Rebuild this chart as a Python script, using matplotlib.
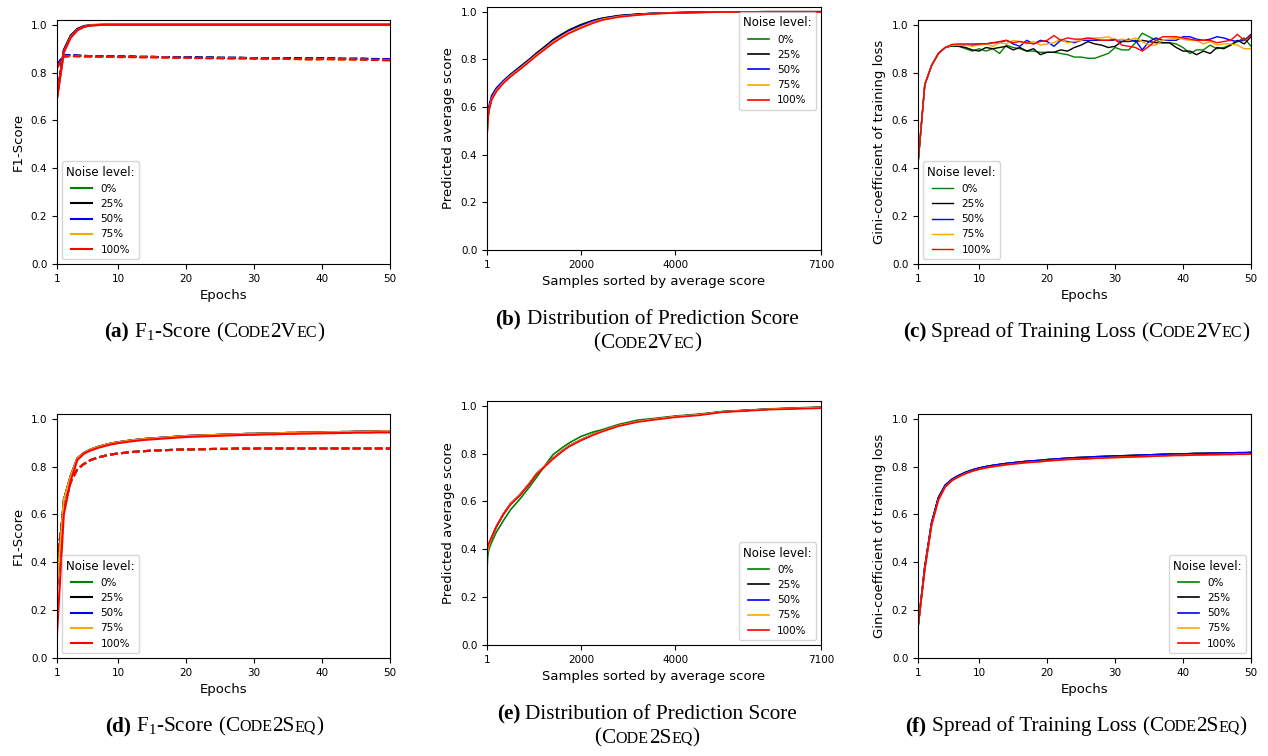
import matplotlib
matplotlib.use("Agg")
import matplotlib.pyplot as plt
from matplotlib.offsetbox import TextArea, HPacker, VPacker, DrawingArea, AnchoredOffsetbox

plt.rcParams["mathtext.fontset"] = "custom"
plt.rcParams["mathtext.rm"] = "Liberation Serif"

NOISE = ["0%", "25%", "50%", "75%", "100%"]
COLORS = ["green", "black", "blue", "orange", "red"]
EPOCHS = list(range(1, 51))

# ---- (a) code2vec F1, solid = train, dashed = validation
a_train = {
    "0%": [0.70, 0.89, 0.95, 0.98, 0.993, 0.998, 0.999] + [1.0] * 43,
    "25%": [0.70, 0.895, 0.955, 0.983, 0.995, 0.999, 1.0] + [1.0] * 43,
    "50%": [0.70, 0.89, 0.95, 0.98, 0.993, 0.998, 0.999] + [1.0] * 43,
    "75%": [0.69, 0.885, 0.948, 0.978, 0.992, 0.998, 0.999] + [1.0] * 43,
    "100%": [0.69, 0.885, 0.945, 0.977, 0.992, 0.997, 0.999] + [1.0] * 43,
}
a_val_hi = [0.830, 0.873, 0.873, 0.871, 0.870, 0.869, 0.869, 0.868, 0.868, 0.867,
            0.867, 0.867, 0.866, 0.866, 0.866, 0.865, 0.865, 0.865, 0.864, 0.864,
            0.864, 0.863, 0.863, 0.863, 0.862, 0.862, 0.862, 0.862, 0.861, 0.861,
            0.861, 0.860, 0.860, 0.861, 0.861, 0.860, 0.859, 0.859, 0.859, 0.860,
            0.859, 0.859, 0.858, 0.858, 0.858, 0.858, 0.857, 0.857, 0.856, 0.856]
a_val_lo = [0.820, 0.866, 0.869, 0.868, 0.867, 0.867, 0.866, 0.866, 0.866, 0.865,
            0.865, 0.865, 0.864, 0.864, 0.864, 0.863, 0.863, 0.862, 0.862, 0.862,
            0.861, 0.861, 0.860, 0.860, 0.860, 0.859, 0.859, 0.859, 0.859, 0.858,
            0.858, 0.858, 0.858, 0.858, 0.857, 0.857, 0.856, 0.855, 0.855, 0.856,
            0.856, 0.855, 0.855, 0.855, 0.854, 0.854, 0.853, 0.853, 0.852, 0.851]
a_val = {"0%": a_val_hi, "25%": a_val_hi, "50%": a_val_hi, "75%": a_val_lo, "100%": a_val_lo}

# ---- (d) code2seq F1
d_train_hi = [0.30, 0.66, 0.76, 0.835, 0.858, 0.872, 0.882, 0.890, 0.897, 0.902,
              0.906, 0.910, 0.913, 0.916, 0.918, 0.920, 0.922, 0.924, 0.926, 0.928,
              0.929, 0.930, 0.931, 0.932, 0.933, 0.934, 0.935, 0.936, 0.937, 0.937,
              0.938, 0.939, 0.939, 0.940, 0.941, 0.941, 0.942, 0.942, 0.943, 0.943,
              0.944, 0.944, 0.945, 0.945, 0.946, 0.946, 0.947, 0.947, 0.948, 0.948]
d_train_red = [0.10, 0.60, 0.74, 0.828, 0.855, 0.868, 0.878, 0.886, 0.893, 0.898,
               0.902, 0.906, 0.909, 0.912, 0.914, 0.916, 0.918, 0.920, 0.922, 0.924,
               0.925, 0.926, 0.927, 0.928, 0.929, 0.930, 0.931, 0.932, 0.933, 0.933,
               0.934, 0.935, 0.935, 0.936, 0.937, 0.937, 0.938, 0.938, 0.939, 0.939,
               0.940, 0.940, 0.941, 0.941, 0.942, 0.942, 0.942, 0.943, 0.943, 0.943]
d_val = [0.40, 0.63, 0.735, 0.790, 0.812, 0.828, 0.838, 0.845, 0.851, 0.855,
         0.858, 0.861, 0.863, 0.865, 0.867, 0.868, 0.869, 0.870, 0.871, 0.872,
         0.872, 0.873, 0.873, 0.874, 0.874, 0.874, 0.875, 0.875, 0.875, 0.875,
         0.876, 0.876, 0.876, 0.876, 0.876, 0.876, 0.876, 0.876, 0.876, 0.876,
         0.876, 0.876, 0.876, 0.876, 0.876, 0.876, 0.876, 0.876, 0.876, 0.876]
d_train = {"0%": d_train_hi, "25%": d_train_hi, "50%": d_train_hi, "75%": d_train_hi, "100%": d_train_red}

# ---- (c) code2vec gini of training loss
c_gini = {
    "0%": [0.42, 0.75, 0.83, 0.88, 0.905, 0.912, 0.91, 0.90, 0.89, 0.90,
           0.89, 0.90, 0.88, 0.915, 0.905, 0.90, 0.89, 0.89, 0.885, 0.885,
           0.885, 0.88, 0.875, 0.865, 0.865, 0.86, 0.86, 0.87, 0.88, 0.905,
           0.895, 0.895, 0.925, 0.965, 0.95, 0.935, 0.925, 0.925, 0.92, 0.905,
           0.88, 0.895, 0.895, 0.915, 0.90, 0.905, 0.915, 0.93, 0.945, 0.91],
    "25%": [0.42, 0.75, 0.83, 0.88, 0.905, 0.912, 0.91, 0.905, 0.895, 0.89,
            0.905, 0.90, 0.905, 0.91, 0.895, 0.905, 0.89, 0.90, 0.875, 0.885,
            0.885, 0.895, 0.89, 0.905, 0.915, 0.93, 0.92, 0.915, 0.905, 0.91,
            0.93, 0.94, 0.93, 0.935, 0.93, 0.925, 0.925, 0.925, 0.905, 0.89,
            0.89, 0.875, 0.89, 0.88, 0.905, 0.90, 0.915, 0.935, 0.92, 0.95],
    "50%": [0.42, 0.75, 0.83, 0.88, 0.905, 0.915, 0.915, 0.915, 0.915, 0.92,
            0.92, 0.925, 0.925, 0.935, 0.92, 0.91, 0.935, 0.92, 0.935, 0.93,
            0.91, 0.935, 0.93, 0.925, 0.935, 0.935, 0.935, 0.935, 0.935, 0.935,
            0.93, 0.93, 0.935, 0.895, 0.93, 0.945, 0.935, 0.935, 0.935, 0.95,
            0.95, 0.94, 0.935, 0.94, 0.95, 0.945, 0.935, 0.93, 0.935, 0.96],
    "75%": [0.42, 0.75, 0.83, 0.88, 0.905, 0.915, 0.915, 0.915, 0.91, 0.915,
            0.92, 0.91, 0.925, 0.92, 0.935, 0.93, 0.92, 0.93, 0.915, 0.92,
            0.925, 0.94, 0.925, 0.93, 0.935, 0.945, 0.945, 0.945, 0.95, 0.935,
            0.94, 0.935, 0.945, 0.93, 0.915, 0.915, 0.935, 0.94, 0.945, 0.94,
            0.935, 0.935, 0.92, 0.93, 0.915, 0.92, 0.92, 0.915, 0.90, 0.90],
    "100%": [0.42, 0.75, 0.83, 0.88, 0.905, 0.918, 0.92, 0.92, 0.92, 0.92,
             0.92, 0.925, 0.93, 0.935, 0.925, 0.93, 0.925, 0.92, 0.93, 0.935,
             0.955, 0.935, 0.945, 0.94, 0.94, 0.945, 0.94, 0.935, 0.935, 0.94,
             0.915, 0.91, 0.905, 0.89, 0.91, 0.935, 0.95, 0.95, 0.95, 0.945,
             0.94, 0.935, 0.935, 0.935, 0.925, 0.93, 0.935, 0.96, 0.935, 0.955],
}

# ---- (f) code2seq gini of training loss
f_hi = [0.13, 0.38, 0.565, 0.67, 0.722, 0.747, 0.763, 0.776, 0.786, 0.794,
        0.800, 0.805, 0.809, 0.813, 0.816, 0.819, 0.822, 0.824, 0.826, 0.829,
        0.831, 0.833, 0.835, 0.837, 0.838, 0.839, 0.841, 0.842, 0.843, 0.844,
        0.845, 0.846, 0.847, 0.848, 0.849, 0.850, 0.851, 0.852, 0.853, 0.853,
        0.854, 0.855, 0.855, 0.856, 0.856, 0.857, 0.857, 0.858, 0.858, 0.859]
f_red = [0.13, 0.37, 0.555, 0.66, 0.715, 0.742, 0.758, 0.771, 0.781, 0.789,
         0.795, 0.800, 0.804, 0.808, 0.811, 0.814, 0.817, 0.819, 0.821, 0.824,
         0.826, 0.828, 0.830, 0.831, 0.832, 0.833, 0.835, 0.836, 0.837, 0.838,
         0.839, 0.840, 0.841, 0.842, 0.843, 0.844, 0.845, 0.846, 0.847, 0.847,
         0.848, 0.849, 0.849, 0.850, 0.850, 0.851, 0.851, 0.852, 0.852, 0.853]
f_gini = {"0%": f_hi, "25%": f_hi, "50%": f_hi, "75%": f_red, "100%": f_red}

# ---- (b) / (e) sorted average prediction score
SAMPLES = [1, 5, 15, 30, 50, 100, 200, 350, 500, 700, 900, 1050, 1250, 1400,
           1600, 1750, 2000, 2250, 2450, 2800, 3200, 3500, 4000, 4500, 5000, 6000, 7100]
b_score = {
    "0%": [0.40, 0.50, 0.545, 0.575, 0.60, 0.64, 0.675, 0.708, 0.735, 0.767, 0.80, 0.825, 0.855, 0.88,
           0.905, 0.922, 0.944, 0.962, 0.972, 0.983, 0.989, 0.993, 0.996, 0.998, 0.999, 1.0, 1.0],
    "25%": [0.40, 0.50, 0.545, 0.575, 0.60, 0.64, 0.677, 0.71, 0.737, 0.769, 0.80, 0.826, 0.857, 0.882,
            0.907, 0.924, 0.946, 0.963, 0.973, 0.984, 0.99, 0.993, 0.996, 0.998, 0.999, 1.0, 1.0],
    "50%": [0.40, 0.53, 0.57, 0.59, 0.61, 0.648, 0.68, 0.71, 0.736, 0.766, 0.798, 0.822, 0.852, 0.877,
            0.902, 0.92, 0.942, 0.96, 0.971, 0.982, 0.989, 0.993, 0.996, 0.998, 0.999, 1.0, 1.0],
    "75%": [0.40, 0.49, 0.54, 0.57, 0.595, 0.635, 0.67, 0.704, 0.731, 0.762, 0.794, 0.819, 0.849, 0.873,
            0.898, 0.915, 0.937, 0.956, 0.968, 0.98, 0.987, 0.992, 0.995, 0.997, 0.999, 1.0, 1.0],
    "100%": [0.40, 0.49, 0.535, 0.565, 0.59, 0.63, 0.665, 0.70, 0.727, 0.758, 0.79, 0.815, 0.845, 0.868,
             0.893, 0.91, 0.932, 0.952, 0.965, 0.978, 0.986, 0.991, 0.995, 0.997, 0.999, 1.0, 1.0],
}
e_main = [0.34, 0.37, 0.39, 0.405, 0.42, 0.448, 0.495, 0.548, 0.59, 0.628, 0.675, 0.715, 0.752, 0.78,
          0.812, 0.833, 0.858, 0.88, 0.895, 0.918, 0.935, 0.943, 0.955, 0.963, 0.975, 0.986, 0.993]
e_score = {
    "0%": [0.28, 0.33, 0.37, 0.39, 0.405, 0.43, 0.472, 0.52, 0.565, 0.61, 0.66, 0.70, 0.755, 0.795,
           0.825, 0.845, 0.872, 0.89, 0.90, 0.922, 0.94, 0.946, 0.957, 0.965, 0.976, 0.987, 0.995],
    "25%": e_main,
    "50%": e_main,
    "75%": e_main,
    "100%": [0.38, 0.40, 0.41, 0.42, 0.43, 0.452, 0.495, 0.546, 0.587, 0.625, 0.672, 0.712, 0.749, 0.777,
             0.809, 0.83, 0.855, 0.877, 0.892, 0.915, 0.932, 0.94, 0.952, 0.96, 0.973, 0.984, 0.99],
}

W, H = 1268, 756
fig = plt.figure(figsize=(W / 100, H / 100), dpi=100)
SERIF = "Liberation Serif"
CAP = 15.3


def box(l, r, t, b):
    return [l / W, 1 - b / H, (r - l) / W, (b - t) / H]


def style(ax, xlabel, ylabel, xticks, xlim):
    ax.set_xlim(*xlim)
    ax.set_ylim(0, 1.02)
    ax.set_xticks(xticks)
    ax.set_yticks([0.0, 0.2, 0.4, 0.6, 0.8, 1.0])
    ax.tick_params(labelsize=7.5)
    ax.set_xlabel(xlabel, fontsize=9.5)
    ax.set_ylabel(ylabel, fontsize=9.5)


def legend(ax, loc):
    ax.legend(title="Noise level:", loc=loc, fontsize=7.5, title_fontsize=8.5)


def sc(word):
    # fake small caps: lowercase letters drawn as smaller capitals
    parts, cur, low = [], "", None
    for ch in word:
        is_low = ch.islower()
        if low is not None and is_low != low:
            parts.append((cur.upper(), CAP * 0.76 if low else CAP, "normal"))
            cur = ""
        cur += ch
        low = is_low
    parts.append((cur.upper(), CAP * 0.76 if low else CAP, "normal"))
    return parts


def caption(cx, cy, lines):
    rows = []
    for line in lines:
        kids = []
        for item in line:
            if item == " ":
                kids.append(DrawingArea(CAP * 0.25, 1))
                continue
            s, size, weight = item
            kids.append(TextArea(s, textprops=dict(family=SERIF, size=size, weight=weight)))
        rows.append(HPacker(children=kids, align="baseline", pad=0, sep=0))
    child = VPacker(children=rows, align="center", pad=0, sep=3) if len(rows) > 1 else rows[0]
    ab = AnchoredOffsetbox(loc="center", child=child, pad=0, borderpad=0, frameon=False,
                           bbox_to_anchor=(cx / W, 1 - cy / H), bbox_transform=fig.transFigure)
    fig.add_artist(ab)


# (a)
ax = fig.add_axes(box(57, 390, 20, 264))
for n, c in zip(NOISE, COLORS):
    ax.plot(EPOCHS, a_val[n], color=c, lw=1.5, ls="--")
for n, c in zip(NOISE, COLORS):
    ax.plot(EPOCHS, a_train[n], color=c, lw=1.5, label=n)
style(ax, "Epochs", "F1-Score", [1, 10, 20, 30, 40, 50], (1, 50))
legend(ax, "lower left")

# (b)
ax = fig.add_axes(box(487, 821, 7, 250))
for n, c in zip(NOISE, COLORS):
    ax.plot(SAMPLES, b_score[n], color=c, lw=1.2, label=n)
style(ax, "Samples sorted by average score", "Predicted average score", [1, 2000, 4000, 7100], (1, 7100))
legend(ax, "upper right")

# (c)
ax = fig.add_axes(box(918, 1251, 20, 264))
for n, c in zip(NOISE, COLORS):
    ax.plot(EPOCHS, c_gini[n], color=c, lw=1.0, label=n)
style(ax, "Epochs", "Gini-coefficient of training loss", [1, 10, 20, 30, 40, 50], (1, 50))
legend(ax, "lower left")

# (d)
ax = fig.add_axes(box(57, 390, 414, 658))
for n, c in zip(NOISE, COLORS):
    ax.plot(EPOCHS, d_val, color=c, lw=1.5, ls="--")
for n, c in zip(NOISE, COLORS):
    ax.plot(EPOCHS, d_train[n], color=c, lw=1.5, label=n)
style(ax, "Epochs", "F1-Score", [1, 10, 20, 30, 40, 50], (1, 50))
legend(ax, "lower left")

# (e)
ax = fig.add_axes(box(487, 821, 401, 645))
for n, c in zip(NOISE, COLORS):
    ax.plot(SAMPLES, e_score[n], color=c, lw=1.2, label=n)
style(ax, "Samples sorted by average score", "Predicted average score", [1, 2000, 4000, 7100], (1, 7100))
legend(ax, "lower right")

# (f)
ax = fig.add_axes(box(918, 1251, 414, 658))
for n, c in zip(NOISE, COLORS):
    ax.plot(EPOCHS, f_gini[n], color=c, lw=1.2, label=n)
style(ax, "Epochs", "Gini-coefficient of training loss", [1, 10, 20, 30, 40, 50], (1, 50))
legend(ax, "lower right")

f1 = ("F$_\\mathrm{1}$-Score", CAP, "normal")
op, cp = ("(", CAP, "normal"), (")", CAP, "normal")
caption(214, 332, [[("(a)", CAP, "bold"), " ", f1, " ", op] + sc("Code2Vec") + [cp]])
caption(647, 331, [[("(b)", CAP, "bold"), " ", ("Distribution of Prediction Score", CAP, "normal")],
                   [op] + sc("Code2Vec") + [cp]])
caption(1076, 332, [[("(c)", CAP, "bold"), " ", ("Spread of Training Loss", CAP, "normal"), " ", op]
                    + sc("Code2Vec") + [cp]])
caption(214, 726, [[("(d)", CAP, "bold"), " ", f1, " ", op] + sc("Code2Seq") + [cp]])
caption(647, 726, [[("(e)", CAP, "bold"), " ", ("Distribution of Prediction Score", CAP, "normal")],
                   [op] + sc("Code2Seq") + [cp]])
caption(1076, 726, [[("(f)", CAP, "bold"), " ", ("Spread of Training Loss", CAP, "normal"), " ", op]
                    + sc("Code2Seq") + [cp]])

fig.savefig("out.png", dpi=100)
